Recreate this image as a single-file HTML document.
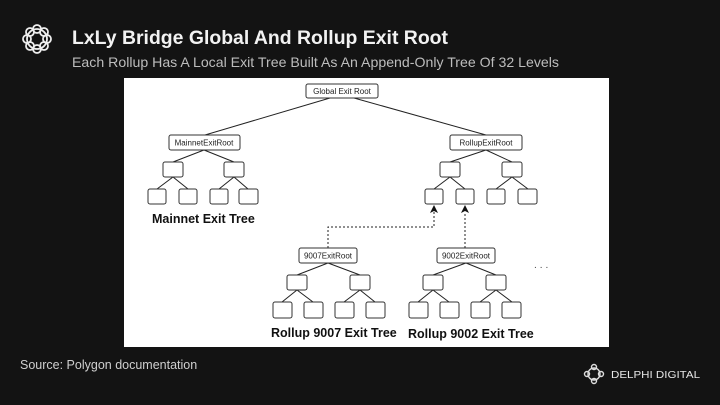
<!DOCTYPE html>
<html><head><meta charset="utf-8"><style>
body{margin:0;width:720px;height:405px;background:#121212;overflow:hidden;font-family:"Liberation Sans",sans-serif;}
</style></head><body>
<svg width="720" height="405" xmlns="http://www.w3.org/2000/svg" style="position:absolute;left:0;top:0">
<rect width="720" height="405" fill="#131313"/>
<g fill="none" stroke="#eee" stroke-width="1.8">
<circle cx="37" cy="39" r="10"/><circle cx="37" cy="29" r="4"/><circle cx="37" cy="49" r="4"/><circle cx="27" cy="39" r="4"/><circle cx="47" cy="39" r="4"/>
<circle cx="30" cy="32" r="4"/><circle cx="44" cy="32" r="4"/><circle cx="30" cy="46" r="4"/><circle cx="44" cy="46" r="4"/>
</g>
<text x="72" y="44" fill="#f2f2f2" font-size="19.5" font-weight="bold" textLength="376" lengthAdjust="spacingAndGlyphs">LxLy Bridge Global And Rollup Exit Root</text>
<text x="72" y="67" fill="#bdbdbd" font-size="14" textLength="487" lengthAdjust="spacingAndGlyphs">Each Rollup Has A Local Exit Tree Built As An Append-Only Tree Of 32 Levels</text>
<text x="20" y="369" fill="#cfcfcf" font-size="12.5">Source: Polygon documentation</text>
<g fill="none" stroke="#ddd" stroke-width="1.4">
<circle cx="594" cy="374" r="6"/><circle cx="594" cy="367" r="2.5"/><circle cx="594" cy="381" r="2.5"/><circle cx="587" cy="374" r="2.5"/><circle cx="601" cy="374" r="2.5"/>
</g>
<text x="611" y="378" fill="#e6e6e6" font-size="10.5" textLength="89" lengthAdjust="spacingAndGlyphs">DELPHI DIGITAL</text>
<rect x="124" y="78" width="485" height="269" fill="#fff"/>
<g stroke="#222" stroke-width="1" fill="none">
<line x1="330" y1="98" x2="205" y2="135"/><line x1="354" y1="98" x2="486" y2="135"/>
<line x1="204" y1="150" x2="173" y2="162"/><line x1="204" y1="150" x2="234" y2="162"/>
<line x1="486" y1="150" x2="450" y2="162"/><line x1="486" y1="150" x2="512" y2="162"/>
<line x1="328" y1="263" x2="297" y2="275"/><line x1="328" y1="263" x2="360" y2="275"/>
<line x1="466" y1="263" x2="433" y2="275"/><line x1="466" y1="263" x2="496" y2="275"/>
<path d="M173 177 L157 189 M173 177 L188 189 M234 177 L219 189 M234 177 L248 189"/>
<path d="M450 177 L434 189 M450 177 L465 189 M512 177 L496 189 M512 177 L528 189"/>
<path d="M297 290 L282 302 M297 290 L313 302 M360 290 L344 302 M360 290 L375 302"/>
<path d="M433 290 L418 302 M433 290 L449 302 M496 290 L480 302 M496 290 L512 302"/>
</g>
<g fill="#fff" stroke="#333" stroke-width="1">
<rect x="306" y="84" width="72" height="14" rx="2"/>
<rect x="169" y="135" width="71" height="15" rx="2"/>
<rect x="450" y="135" width="72" height="15" rx="2"/>
<rect x="299" y="248" width="58" height="15" rx="2"/>
<rect x="437" y="248" width="58" height="15" rx="2"/>
<rect x="163" y="162" width="20" height="15" rx="2"/><rect x="224" y="162" width="20" height="15" rx="2"/>
<rect x="440" y="162" width="20" height="15" rx="2"/><rect x="502" y="162" width="20" height="15" rx="2"/>
<rect x="148" y="189" width="18" height="15" rx="2"/><rect x="179" y="189" width="18" height="15" rx="2"/>
<rect x="210" y="189" width="18" height="15" rx="2"/><rect x="239" y="189" width="19" height="15" rx="2"/>
<rect x="425" y="189" width="18" height="15" rx="2"/><rect x="456" y="189" width="18" height="15" rx="2"/>
<rect x="487" y="189" width="18" height="15" rx="2"/><rect x="518" y="189" width="19" height="15" rx="2"/>
<rect x="287" y="275" width="20" height="15" rx="2"/><rect x="350" y="275" width="20" height="15" rx="2"/>
<rect x="423" y="275" width="20" height="15" rx="2"/><rect x="486" y="275" width="20" height="15" rx="2"/>
<rect x="273" y="302" width="19" height="16" rx="2"/><rect x="304" y="302" width="19" height="16" rx="2"/>
<rect x="335" y="302" width="19" height="16" rx="2"/><rect x="366" y="302" width="19" height="16" rx="2"/>
<rect x="409" y="302" width="19" height="16" rx="2"/><rect x="440" y="302" width="19" height="16" rx="2"/>
<rect x="471" y="302" width="19" height="16" rx="2"/><rect x="502" y="302" width="19" height="16" rx="2"/>
</g>
<g font-size="8" fill="#222" text-anchor="middle">
<text x="342" y="94">Global Exit Root</text>
<text x="204" y="145.5">MainnetExitRoot</text>
<text x="486" y="145.5">RollupExitRoot</text>
<text x="328" y="258.5">9007ExitRoot</text>
<text x="466" y="258.5">9002ExitRoot</text>
</g>
<g stroke="#222" stroke-width="1" fill="none" stroke-dasharray="2,2">
<path d="M328 248 V227 H434 V212"/><path d="M465 248 V212"/>
</g>
<path d="M434 205 L430 213 L434 211 L438 213 Z M465 205 L461 213 L465 211 L469 213 Z" fill="#111"/>
<g font-size="12.5" font-weight="bold" fill="#111">
<text x="152" y="223">Mainnet Exit Tree</text>
<text x="271" y="337">Rollup 9007 Exit Tree</text>
<text x="408" y="338">Rollup 9002 Exit Tree</text>
</g>
<text x="534" y="268" font-size="10" fill="#444" letter-spacing="3">...</text>
</svg>
</body></html>
